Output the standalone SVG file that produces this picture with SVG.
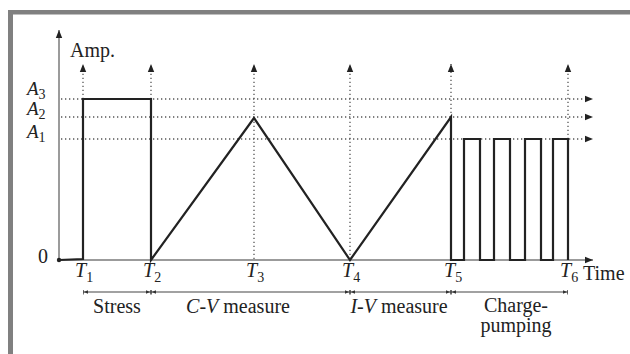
<svg xmlns="http://www.w3.org/2000/svg" width="630" height="354" viewBox="0 0 630 354">
<defs>
<style>
.frame{fill:#808080}
.axis{stroke:#7a7a7a;stroke-width:1.5;fill:none}
.dot{stroke:#555;stroke-width:1.3;stroke-dasharray:1.3 2.7;fill:none}
.wave{stroke:#222;stroke-width:2.2;fill:none;stroke-linejoin:miter}
.br{stroke:#444;stroke-width:1.2;fill:none}
text{font-family:"Liberation Serif","Times New Roman",serif;fill:#222}
.lbl{font-size:20px}
.it{font-style:italic}
.sub{font-size:14px}
</style>
<marker id="ah" viewBox="0 0 10 10" refX="10" refY="5" markerWidth="8" markerHeight="8" markerUnits="userSpaceOnUse" orient="auto">
<path d="M0,1 L10,5 L0,9 Z" fill="#222"/>
</marker>
<marker id="tk" viewBox="0 0 6 6" refX="6" refY="3" markerWidth="5" markerHeight="5" markerUnits="userSpaceOnUse" orient="auto-start-reverse">
<path d="M0,1 L5,3 L0,5 Z" fill="#333"/>
<path d="M5.6,0 L5.6,6" stroke="#333" stroke-width="1"/>
</marker>
</defs>
<rect id="frame-top" class="frame" x="8" y="10" width="622" height="4.5"/>
<rect id="frame-left" class="frame" x="8" y="10" width="5" height="344"/>
<g id="connectors">
<line class="axis" x1="59" y1="260" x2="59" y2="30" marker-end="url(#ah)"/>
<line class="axis" x1="59" y1="260" x2="593" y2="260" marker-end="url(#ah)"/>
<line class="dot" x1="61" y1="99" x2="593" y2="99" marker-end="url(#ah)"/>
<line class="dot" x1="61" y1="117" x2="593" y2="117" marker-end="url(#ah)"/>
<line class="dot" x1="61" y1="139" x2="593" y2="139" marker-end="url(#ah)"/>
<line class="dot" x1="83" y1="99" x2="83" y2="64" marker-end="url(#ah)"/>
<line class="dot" x1="151" y1="99" x2="151" y2="64" marker-end="url(#ah)"/>
<line class="dot" x1="254" y1="259" x2="254" y2="64" marker-end="url(#ah)"/>
<line class="dot" x1="350" y1="259" x2="350" y2="64" marker-end="url(#ah)"/>
<line class="dot" x1="451" y1="117" x2="451" y2="64" marker-end="url(#ah)"/>
<line class="dot" x1="568" y1="139" x2="568" y2="64" marker-end="url(#ah)"/>
<line class="br" x1="83" y1="292" x2="151" y2="292" marker-start="url(#tk)" marker-end="url(#tk)"/>
<line class="br" x1="151" y1="292" x2="350" y2="292" marker-start="url(#tk)" marker-end="url(#tk)"/>
<line class="br" x1="350" y1="292" x2="451" y2="292" marker-start="url(#tk)" marker-end="url(#tk)"/>
<line class="br" x1="451" y1="292" x2="568" y2="292" marker-start="url(#tk)" marker-end="url(#tk)"/>
</g>
<g id="waveform">
<circle cx="59" cy="260" r="2.2" fill="#222"/>
<path class="wave" d="M59,260 L83,259 L83,99 L151,99 L151,260 L254,118 L350,260 L451,117 L451,260 L464,260 L464,139 L480,139 L480,260 L494,260 L494,139 L510,139 L510,260 L525,260 L525,139 L541,139 L541,260 L553,260 L553,139 L568,139 L568,260"/>
</g>
<g id="axis-labels">
<text class="lbl" x="70" y="57">Amp.</text>
<text class="lbl" x="583" y="280">Time</text>
<text class="lbl" x="38" y="263" font-size="18">0</text>
<text x="27" y="95" font-size="19"><tspan class="it">A</tspan><tspan class="sub" dy="4">3</tspan></text>
<text x="27" y="115" font-size="19"><tspan class="it">A</tspan><tspan class="sub" dy="4">2</tspan></text>
<text x="27" y="138" font-size="19"><tspan class="it">A</tspan><tspan class="sub" dy="4">1</tspan></text>
</g>
<g id="time-labels" font-size="20">
<text x="75" y="277"><tspan class="it">T</tspan><tspan class="sub" dy="5">1</tspan></text>
<text x="143" y="277"><tspan class="it">T</tspan><tspan class="sub" dy="5">2</tspan></text>
<text x="246" y="277"><tspan class="it">T</tspan><tspan class="sub" dy="5">3</tspan></text>
<text x="342" y="277"><tspan class="it">T</tspan><tspan class="sub" dy="5">4</tspan></text>
<text x="444" y="277"><tspan class="it">T</tspan><tspan class="sub" dy="5">5</tspan></text>
<text x="560" y="277"><tspan class="it">T</tspan><tspan class="sub" dy="5">6</tspan></text>
</g>
<g id="phase-labels" font-size="20" text-anchor="middle">
<text x="117" y="313">Stress</text>
<text x="238" y="313"><tspan class="it">C</tspan>-<tspan class="it">V</tspan> measure</text>
<text x="399" y="313"><tspan class="it">I</tspan>-<tspan class="it">V</tspan> measure</text>
<text x="516" y="312">Charge-</text>
<text x="516" y="332">pumping</text>
</g>
</svg>
